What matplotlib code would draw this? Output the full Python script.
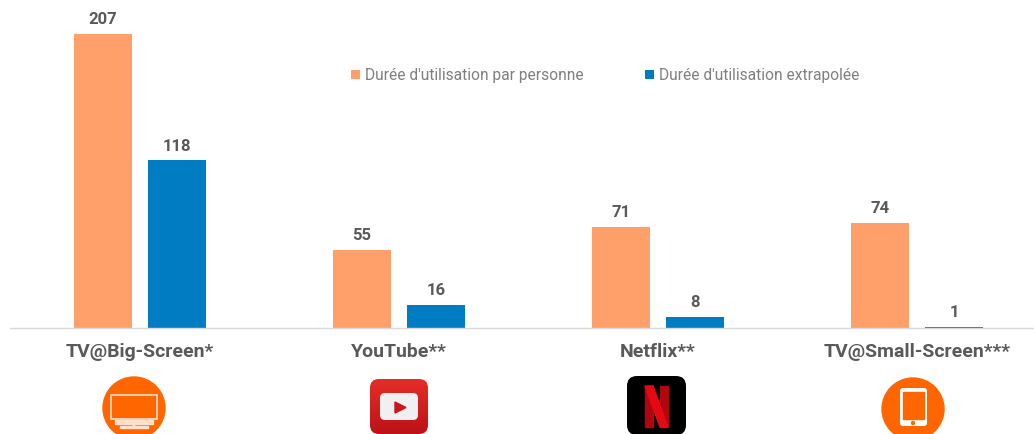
import numpy as np
import matplotlib
matplotlib.use('Agg')
import matplotlib.pyplot as plt
from matplotlib.patches import Circle, FancyBboxPatch, Polygon, Rectangle

categories = ['TV@Big-Screen*', 'YouTube**', 'Netflix**', 'TV@Small-Screen***']
par_personne = [207, 55, 71, 74]
extrapolee = [118, 16, 8, 1]
legend_labels = ["Durée d'utilisation par personne", "Durée d'utilisation extrapolée"]

ORANGE = '#FFA06A'
BLUE = '#007CC3'
GREY = '#595959'
ICON = '#FF6600'

plt.rcParams['font.family'] = ['Roboto', 'DejaVu Sans']

W, H = 1034, 434
fig = plt.figure(figsize=(W / 100, H / 100), dpi=100)
ax = fig.add_axes([10 / W, (H - 328) / H, 1 - 10 / W, 328 / H])

x = np.arange(len(categories))
width = 58 / 259
offset = 37 / 259
b1 = ax.bar(x - offset, par_personne, width, color=ORANGE, label=legend_labels[0])
b2 = ax.bar(x + offset, extrapolee, width, color=BLUE, label=legend_labels[1])
ax.bar_label(b1, padding=5, fontsize=12, fontweight='bold', color=GREY)
ax.bar_label(b2, padding=5, fontsize=12, fontweight='bold', color=GREY)

ax.set_xlim(-130 / 259, 894 / 259)
ax.set_ylim(0, 231)
ax.set_yticks([])
ax.set_xticks(x)
ax.set_xticklabels(categories, fontsize=14, fontweight='bold', color=GREY)
ax.tick_params(axis='x', length=0, pad=10.5)
for s in ['top', 'left', 'right']:
    ax.spines[s].set_visible(False)
ax.spines['bottom'].set_color('#D9D9D9')
ax.spines['bottom'].set_linewidth(1)

leg = ax.legend(loc='upper left', bbox_to_anchor=(341 / 1024, (328 - 68) / 328), ncol=2,
                frameon=False, fontsize=11.2, labelcolor='#7F7F7F', handlelength=0.6,
                handleheight=0.6, handletextpad=0.3, columnspacing=3.95, borderpad=0, borderaxespad=0)

# icons under the categories, in pixel coordinates
ic = fig.add_axes([0, 0, 1, 1])
ic.set_xlim(0, W)
ic.set_ylim(H, 0)
ic.axis('off')

# TV
ic.add_patch(Circle((134, 408), 31, color=ICON))
ic.add_patch(Rectangle((111, 395), 46, 24, fc=ICON, ec='#FFE0CC', lw=1.2))
ic.add_patch(Rectangle((115, 420), 38, 4, color='#FFE0CC'))
ic.add_patch(Rectangle((132.5, 424), 1.5, 2, color='#FFE0CC'))
ic.add_patch(Rectangle((120, 425.5), 28, 2, color='#FFE0CC'))

# YouTube
yt = FancyBboxPatch((374, 383), 50, 47, boxstyle='round,pad=4,rounding_size=9', fc='none', ec='none')
ic.add_patch(yt)
grad = ic.imshow(np.linspace(0, 1, 50).reshape(-1, 1), extent=(370, 428, 434, 379),
                 cmap=matplotlib.colors.LinearSegmentedColormap.from_list('yt', ['#E52D27', '#BD1218']),
                 aspect='auto', zorder=2)
grad.set_clip_path(yt)
ic.set_xlim(0, W)
ic.set_ylim(H, 0)
ic.add_patch(FancyBboxPatch((383, 396), 32, 21, boxstyle='round,pad=3,rounding_size=5',
                            fc='#F0F0F0', ec='none', zorder=3))
ic.add_patch(Polygon([(395, 402), (406, 407.5), (395, 413)], color='#C8171D', zorder=4))

# Netflix
ic.add_patch(FancyBboxPatch((635, 384), 43, 43, boxstyle='round,pad=8,rounding_size=10', fc='black', ec='none'))
ic.add_patch(Rectangle((645, 386), 8, 41, color='#B00610'))
ic.add_patch(Rectangle((660, 386), 8, 41, color='#B00610'))
ic.add_patch(Polygon([(645, 386), (653, 386), (668, 427), (660, 427)], color='#E50914'))

# tablet
ic.add_patch(Circle((913, 409), 31, color=ICON))
ic.add_patch(FancyBboxPatch((902, 390), 23, 34, boxstyle='round,pad=2,rounding_size=3', fc='white', ec='none'))
ic.add_patch(Rectangle((903, 392), 21, 27, color=ICON))
ic.add_patch(Circle((913, 423), 1.5, color=ICON))

fig.savefig('out.png', dpi=100)
